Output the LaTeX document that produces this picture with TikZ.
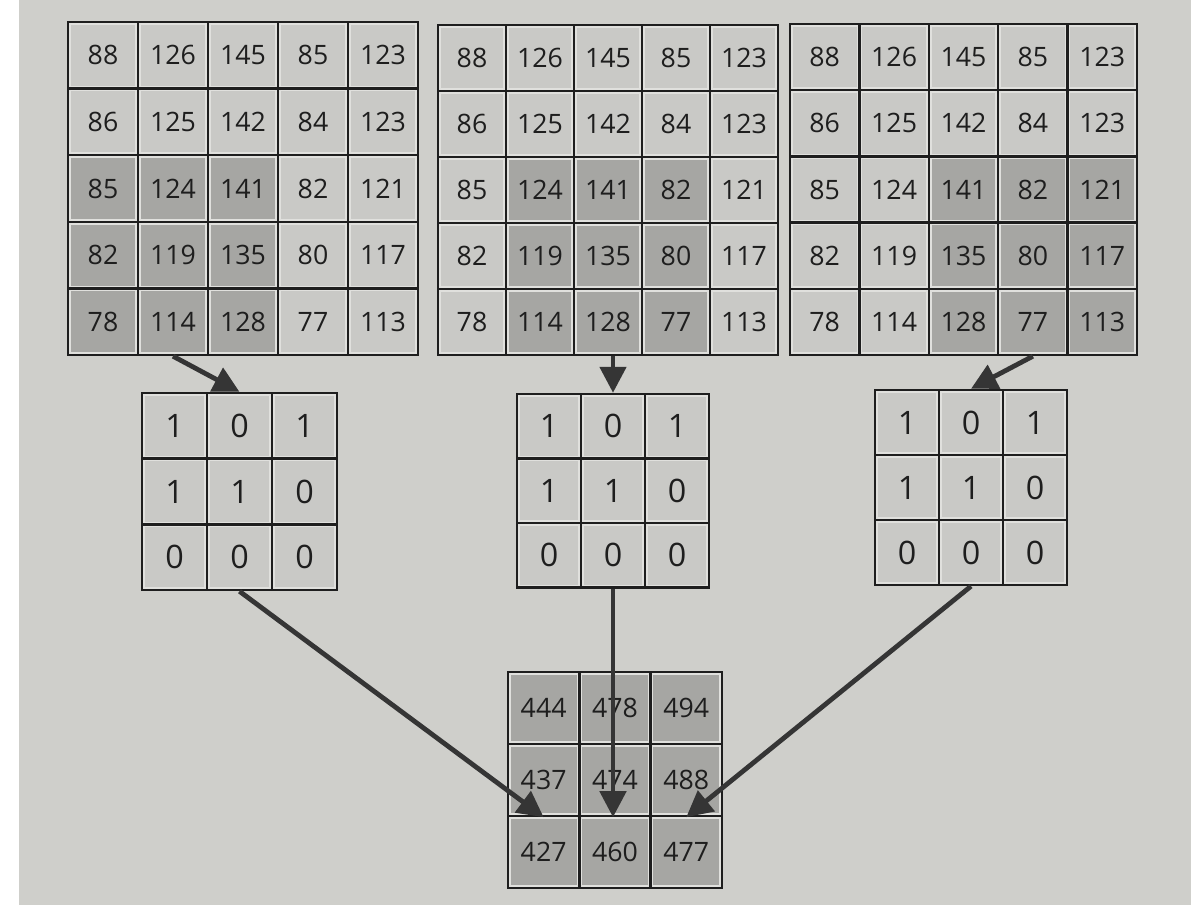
\documentclass[tikz,border=0pt]{standalone}
\usepackage{fontspec}
\setmainfont{Open Sans}
\usetikzlibrary{arrows.meta}
\definecolor{paper}{RGB}{207,207,203}
\definecolor{gapwhite}{RGB}{224,224,221}
\definecolor{lightcell}{RGB}{201,201,198}
\definecolor{darkcell}{RGB}{166,166,163}
\definecolor{ink}{RGB}{30,30,30}
\tikzset{
	cell/.style={draw=ink, line width=0.6mm, fill=gapwhite, inner sep=0pt, text=ink,
		path picture={\fill[#1] ([shift={(0.7mm,-0.7mm)}]path picture bounding box.north west) rectangle ([shift={(-0.7mm,0.7mm)}]path picture bounding box.south east);}},
	pfeil/.style={draw=ink!90, line width=1.2mm, -{Triangle[width=6.5mm,length=6.5mm]}}
}

\begin{document}
\begin{tikzpicture}[x=25mm, y=25mm, font=\fontsize{19}{22}\selectfont]
			%Hintergrund
			\fill[white] (0,0) rectangle (12.02,9.05);
			\fill[paper] (0.19,0) rectangle (11.91,9.05);
			% Eingabebilder mit markiertem Fenster
			\foreach \g/\gx/\gy/\cw/\ch/\s in {A/0.68/8.83/0.70/0.666/1, B/4.38/8.80/0.68/0.66/2, C/7.90/8.81/0.694/0.662/3}
			\foreach \zeile [count=\r] in {{88,126,145,85,123},{86,125,142,84,123},{85,124,141,82,121},{82,119,135,80,117},{78,114,128,77,113}}
			\foreach \v [count=\c] in \zeile {
				\pgfmathtruncatemacro\dunkel{(\r>2)&&(\c>=\s)&&(\c<=\s+2)}
				\ifnum\dunkel=1 \def\farbe{darkcell}\else\def\farbe{lightcell}\fi
				\node[cell=\farbe, minimum width={\cw*25mm}, minimum height={\ch*25mm}] (\g-\r-\c) at ({\gx+(\c-0.5)*\cw}, {\gy-(\r-0.5)*\ch}) {\v};
			}
			% Filter
			\foreach \k/\kx/\ky/\cw/\ch in {kA/1.42/5.12/0.65/0.657, kB/5.17/5.11/0.64/0.645, kC/8.75/5.15/0.64/0.65}
			\foreach \zeile [count=\r] in {{1,0,1},{1,1,0},{0,0,0}}
			\foreach \v [count=\c] in \zeile
				\node[cell=lightcell, font=\fontsize{23}{26}\selectfont, minimum width={\cw*25mm}, minimum height={\ch*25mm}] (\k-\r-\c) at ({\kx+(\c-0.5)*\cw}, {\ky-(\r-0.5)*\ch}) {\v};
			% Ergebnis
			\foreach \zeile [count=\r] in {{444,478,494},{437,474,488},{427,460,477}}
			\foreach \v [count=\c] in \zeile
				\node[cell=darkcell, minimum width={0.713*25mm}, minimum height={0.72*25mm}] (O-\r-\c) at ({5.08+(\c-0.5)*0.713}, {2.33-(\r-0.5)*0.72}) {\v};
			%Pfeile
			\draw[pfeil] (A-5-2.south) -- (kA-1-2.north);
			\draw[pfeil] (kB-1-2.north |- B-5-3.south) -- (kB-1-2.north);
			\draw[pfeil] (C-5-4.south) -- (kC-1-2.north);
			\draw[pfeil] (kA-3-2.south) -- (O-2-1.south);
			\draw[pfeil] (kB-3-2.south) -- (kB-3-2.south |- O-2-2.south);
			\draw[pfeil] (kC-3-2.south) -- (O-2-3.south);
		\end{tikzpicture}
\end{document}
